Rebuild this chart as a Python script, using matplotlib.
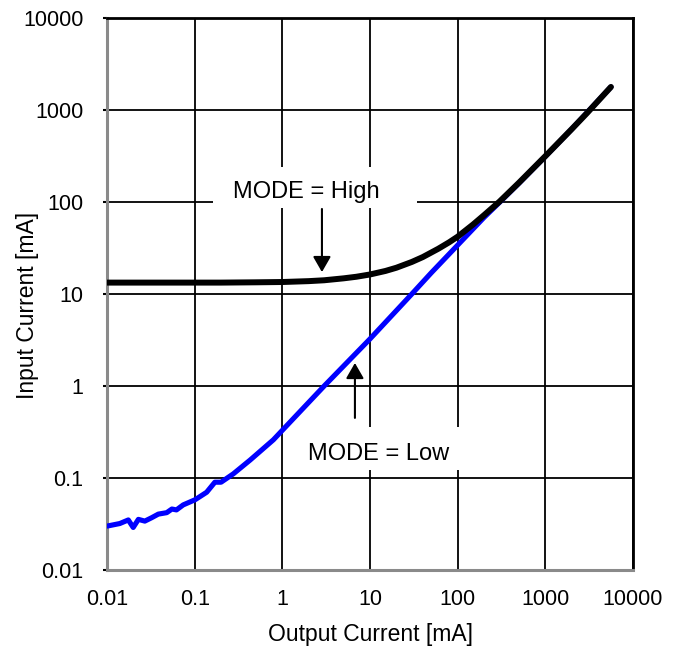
import matplotlib
matplotlib.use("Agg")
import matplotlib.pyplot as plt
from matplotlib.patches import Rectangle

plt.rcParams['font.family'] = ['Liberation Sans', 'DejaVu Sans']

# Output current [mA] vs input current [mA]
high_iout = [0.01, 0.02, 0.05, 0.1, 0.2, 0.5, 1, 2, 3, 5, 7, 10, 15, 20, 30,
             40, 60, 80, 100, 150, 200, 300, 500, 1000, 2000, 3000, 5600]
high_iin = [13.3, 13.3, 13.3, 13.3, 13.3, 13.4, 13.5, 13.8, 14.1, 14.8, 15.4,
            16.3, 17.8, 19.3, 22.3, 25.2, 31.0, 36.5, 42.0, 57.0, 72.0, 101.0,
            162.0, 315.0, 620.0, 930.0, 1780.0]

low_iout = [0.0100, 0.0140, 0.0175, 0.0199, 0.0228, 0.027, 0.0323, 0.0385,
            0.048, 0.055, 0.062, 0.074, 0.101, 0.137, 0.17, 0.20, 0.276, 0.43,
            0.79, 1, 3, 10, 30, 50, 100, 200, 300, 500, 1000, 2000, 5600]
low_iin = [0.030, 0.032, 0.035, 0.029, 0.0355, 0.034, 0.037, 0.0405, 0.042,
           0.046, 0.045, 0.051, 0.058, 0.070, 0.090, 0.090, 0.111, 0.157,
           0.26, 0.33, 1.0, 3.25, 10.0, 17.0, 34.0, 68.0, 99.0, 160.0, 313.0,
           620.0, 1780.0]

decade_ticks = [0.01, 0.1, 1, 10, 100, 1000, 10000]
decade_labels = ['0.01', '0.1', '1', '10', '100', '1000', '10000']

fig = plt.figure(figsize=(6.83, 6.53), dpi=100)
ax = fig.add_axes([107 / 683, 83 / 653, 526 / 683, 552 / 653])
ax.set_xscale('log')
ax.set_yscale('log')
ax.set_xlim(0.01, 10000)
ax.set_ylim(0.01, 10000)

ax.set_xticks(decade_ticks)
ax.set_xticklabels(decade_labels)
ax.set_yticks(decade_ticks)
ax.set_yticklabels(decade_labels)
ax.minorticks_off()
ax.tick_params(axis='x', length=0, pad=14, labelsize=15.5)
ax.tick_params(axis='y', length=3, width=1.5, pad=14, labelsize=15.5)

ax.grid(True, which='major', color='black', linewidth=1.3, zorder=0)
ax.set_axisbelow(True)

for side in ('top', 'right'):
    ax.spines[side].set_color('black')
    ax.spines[side].set_linewidth(2.0)
for side in ('left', 'bottom'):
    ax.spines[side].set_color('#8a8a8a')
    ax.spines[side].set_linewidth(2.2)

# white panels behind the annotations
ax.add_patch(Rectangle((0.2015, 0.656), 0.3875, 0.074, transform=ax.transAxes,
                       facecolor='white', edgecolor='none', zorder=1.5))
ax.add_patch(Rectangle((0.352, 0.181), 0.334, 0.078, transform=ax.transAxes,
                       facecolor='white', edgecolor='none', zorder=1.5))

ax.plot(low_iout, low_iin, color='#0000ff', linewidth=3.7,
        solid_capstyle='round', solid_joinstyle='round', zorder=3)
ax.plot(high_iout, high_iin, color='black', linewidth=4.3,
        solid_capstyle='round', solid_joinstyle='round', zorder=4)

arrow = dict(arrowstyle='-|>,head_length=0.47,head_width=0.27',
             mutation_scale=20, color='black', lw=1.5,
             shrinkA=0, shrinkB=0)
ax.annotate('', xy=(2.83, 17.3), xytext=(2.83, 84), arrowprops=arrow, zorder=5)
ax.annotate('', xy=(6.73, 1.78), xytext=(6.73, 0.45), arrowprops=arrow, zorder=5)

ax.text(1.86, 110, 'MODE = High', ha='center', va='baseline', fontsize=17, zorder=5)
ax.text(12.6, 0.157, 'MODE = Low', ha='center', va='baseline', fontsize=17, zorder=5)

ax.set_xlabel('Output Current [mA]', fontsize=16.5, va='center')
ax.set_ylabel('Input Current [mA]', fontsize=16.5, va='center')
ax.xaxis.set_label_coords(0.5, -0.116)
ax.yaxis.set_label_coords(-0.152, 0.48)

fig.savefig('out.png', dpi=100)
